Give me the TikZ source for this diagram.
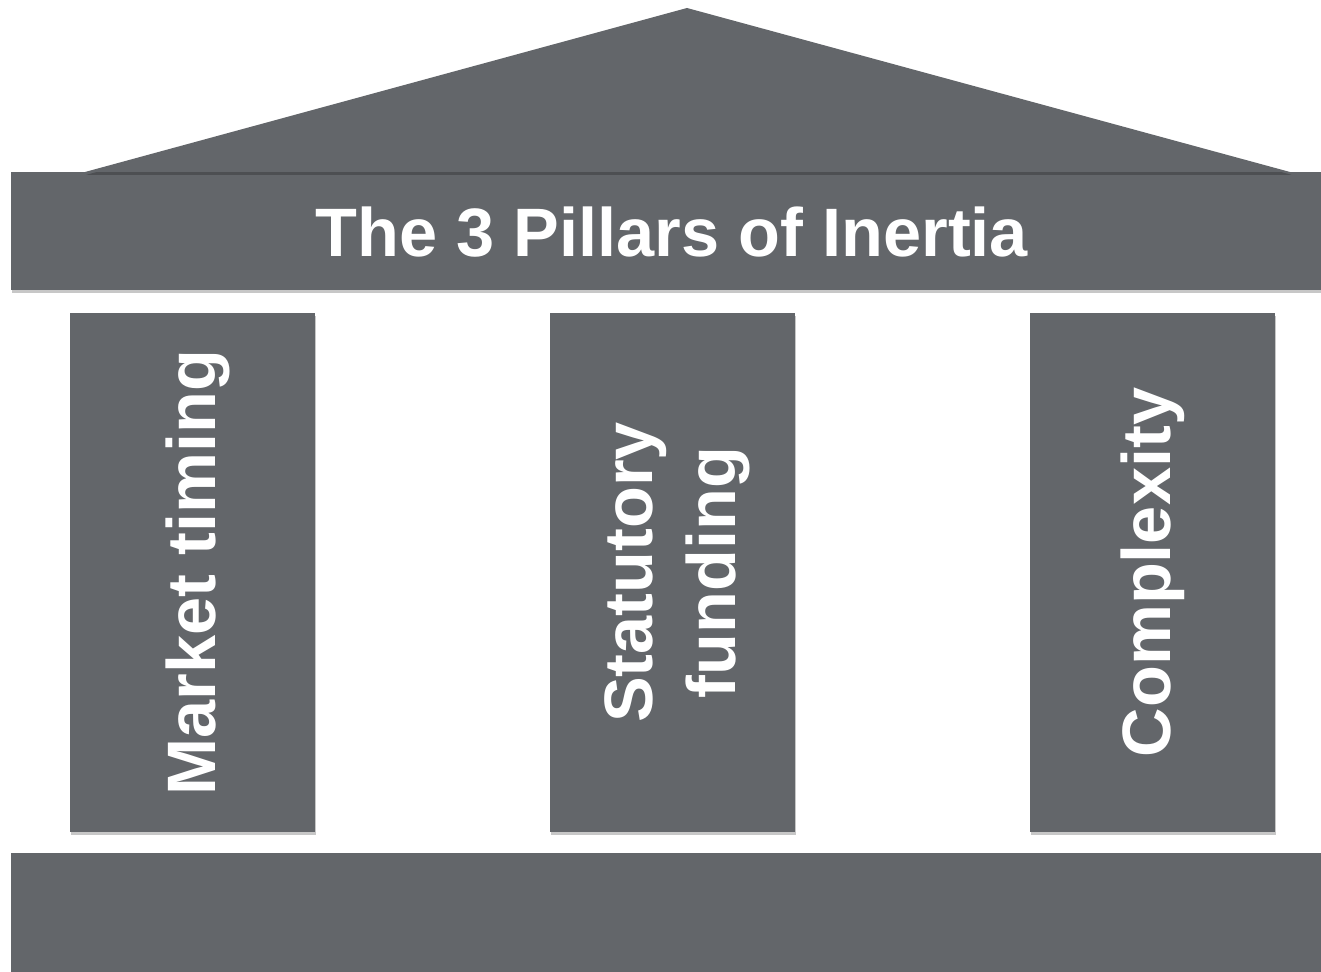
\documentclass[tikz,border=0pt]{standalone}
\usepackage{fontspec}
\setmainfont{Liberation Sans}
\usepackage{tikz}
\usetikzlibrary{shadows,positioning}
\definecolor{slate}{HTML}{63666A}
\tikzset{
	every node/.style={font=\bfseries\fontsize{39}{47}\selectfont, text=white},
	soft shadow/.style={drop shadow={shadow xshift=0.8pt, shadow yshift=-1.6pt, opacity=0.22, fill=black}},
	pillar/.style={fill=slate, soft shadow, minimum width=4.9cm, minimum height=10.38cm, inner sep=0pt}
}

\begin{document}
\begin{tikzpicture}[x=0.02cm, y=-0.02cm]
	\useasboundingbox (0,0) rectangle (1321,972);

	% Beam and roof
	\fill[slate, soft shadow] (11,172) rectangle (1321,290);
	\fill[slate, soft shadow] (85,172) -- (687,8) -- (1290,172) -- cycle;
	\node (title) at (672,232) {The 3 Pillars of Inertia};

	% Pillars
	\node[pillar] (market) at (192.5,572.5) {};
	\node[pillar] (statutory) at (672.5,572.5) {};
	\node[pillar] (complexity) at (1152.5,572.5) {};

	\node[rotate=90] at ([xshift=0.1cm]market) {Market timing};
	\node[rotate=90, align=center] at ([xshift=0.1cm]statutory) {Statutory\\funding};
	\node[rotate=90] at (complexity) {Complexity};

	% Base
	\fill[slate, soft shadow] (11,853) rectangle (1321,972);
\end{tikzpicture}
\end{document}
